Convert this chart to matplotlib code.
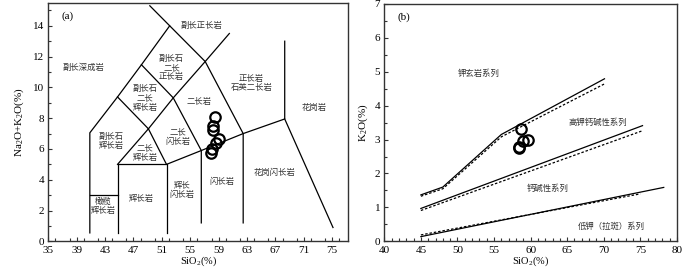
import matplotlib
matplotlib.use("Agg")
import matplotlib.pyplot as plt
from matplotlib.ticker import MultipleLocator

plt.rcParams['font.family'] = ['Liberation Serif', 'DejaVu Serif']
plt.rcParams['mathtext.fontset'] = 'custom'
plt.rcParams['mathtext.rm'] = 'Liberation Serif'
plt.rcParams['mathtext.it'] = 'Liberation Serif:italic'

CJK = ['Noto Sans CJK SC', 'DejaVu Sans']

# ---- panel (a): TAS plutonic grid, vertices ----
foid_left = [(40.85, 0.55), (40.85, 7.05), (44.75, 9.38), (48.12, 11.47), (52.1, 14.0), (49.3, 15.3)]
foid_right = [(52.1, 14.0), (57.1, 11.68), (62.45, 7.0), (62.45, 1.2)]
peridot_top = [(40.85, 3.0), (44.75, 3.0)]
gabbro_box = [(44.75, 0.55), (44.75, 5.0), (51.65, 5.0), (51.65, 0.55)]
alk_line = [(44.75, 5.0), (49.1, 7.31), (51.65, 5.0), (56.55, 5.9), (62.45, 7.0), (68.3, 7.95), (68.3, 13.0)]
cross_1 = [(44.75, 9.38), (49.1, 7.31)]
cross_2 = [(48.12, 11.47), (52.6, 9.32), (56.55, 5.9), (56.55, 1.2)]
cross_3 = [(49.1, 7.31), (52.6, 9.32), (57.1, 11.68), (60.5, 13.5)]
granite_line = [(68.3, 7.95), (75.1, 0.9)]
tas_lines = [foid_left, foid_right, peridot_top, gabbro_box, alk_line,
             cross_1, cross_2, cross_3, granite_line]

tas_names = ['副长深成岩', '副长正长岩', '副长石\n二长\n正长岩', '副长石\n二长\n辉长岩', '二长岩',
             '正长岩\n石英二长岩', '花岗岩', '副长石\n辉长岩', '二长\n辉长岩', '二长\n闪长岩',
             '辉长岩', '橄榄\n辉长岩', '辉长\n闪长岩', '闪长岩', '花岗闪长岩']
tas_name_x = [39.9, 56.6, 52.35, 48.6, 56.3, 63.6, 72.5, 43.9, 48.6, 53.3, 48.1, 42.7, 53.8, 59.4, 66.9]
tas_name_y = [11.3, 14.0, 11.3, 9.3, 9.1, 10.27, 8.7, 6.5, 5.77, 6.8, 2.77, 2.3, 3.34, 3.87, 4.5]

sio2_a = [58.45, 58.2, 58.2, 59.0, 58.6, 57.85, 58.0]
alk_a = [8.09, 7.52, 7.25, 6.68, 6.42, 5.77, 6.0]

# ---- panel (b): K2O vs SiO2 series boundaries ----
shos_x = [45, 48, 56, 70.1]
shos_y = [1.37, 1.6, 3.15, 4.79]
shos_dash_x = [45, 48, 56, 70.1]
shos_dash_y = [1.33, 1.55, 3.08, 4.64]
hk_x = [45, 75.3]
hk_y = [0.97, 3.41]
hk_dash_x = [45, 75.3]
hk_dash_y = [0.91, 3.26]
lk_x = [45, 78.2]
lk_y = [0.14, 1.59]
lk_dash_x = [45, 75.0]
lk_dash_y = [0.19, 1.40]

series_names = ['钾玄岩系列', '高钾钙碱性系列', '钙碱性系列', '低钾（拉斑）系列']
series_x = [52.9, 69.2, 62.3, 71.0]
series_y = [4.95, 3.5, 1.57, 0.43]

sio2_b = [58.67, 58.43, 58.9, 59.6, 58.35]
k2o_b = [3.31, 2.79, 2.95, 3.0, 2.74]

fig = plt.figure(figsize=(7, 2.7), dpi=100)
ax1 = fig.add_axes([0.069, 0.106, 0.428, 0.884])
ax2 = fig.add_axes([0.549, 0.106, 0.418, 0.88])


def style_axes(ax):
    for s in ax.spines.values():
        s.set_linewidth(1.0)
        s.set_color('#333333')
    ax.tick_params(which='both', direction='in', top=False, right=False,
                   labelsize=8, width=0.8, color='#333333')
    ax.tick_params(axis='x', pad=3)
    ax.tick_params(axis='y', pad=3)
    ax.tick_params(which='major', length=3)
    ax.tick_params(which='minor', length=2)


# panel a
for pl in tas_lines:
    ax1.plot([p[0] for p in pl], [p[1] for p in pl], color='black', lw=0.9)
for name, x, y in zip(tas_names, tas_name_x, tas_name_y):
    ax1.text(x, y, name, family=CJK, fontsize=6, color='#333333',
             ha='center', va='center', linespacing=1.05)
ax1.plot(sio2_a, alk_a, 'o', ms=7.5, mfc='none', mec='black', mew=1.6)
ax1.set_xlim(35, 77.2)
ax1.set_ylim(0, 15.5)
ax1.xaxis.set_minor_locator(MultipleLocator(2))
ax1.yaxis.set_major_locator(MultipleLocator(2))
ax1.yaxis.set_minor_locator(MultipleLocator(1))
ax1.set_xticks(range(35, 77, 4))
style_axes(ax1)
ax1.set_xlabel('SiO$_2$(%)', fontsize=7.5, labelpad=0)
ax1.set_ylabel('Na$_2$O+K$_2$O(%)', fontsize=8, labelpad=5)
ax1.text(0.045, 0.965, '(a)', transform=ax1.transAxes, fontsize=8, va='top')

# panel b
ax2.plot(shos_x, shos_y, color='black', lw=0.9)
ax2.plot(shos_dash_x, shos_dash_y, color='black', lw=0.9, ls=(0, (2, 1.5)))
ax2.plot(hk_x, hk_y, color='black', lw=0.9)
ax2.plot(hk_dash_x, hk_dash_y, color='black', lw=0.9, ls=(0, (2, 1.5)))
ax2.plot(lk_x, lk_y, color='black', lw=0.9)
ax2.plot(lk_dash_x, lk_dash_y, color='black', lw=0.9, ls=(0, (2, 1.5)))
for name, x, y in zip(series_names, series_x, series_y):
    ax2.text(x, y, name, family=CJK, fontsize=6, color='#333333',
             ha='center', va='center')
ax2.plot(sio2_b, k2o_b, 'o', ms=7.5, mfc='none', mec='black', mew=1.6)
ax2.set_xlim(40, 80)
ax2.set_ylim(0, 7)
ax2.xaxis.set_major_locator(MultipleLocator(5))
ax2.xaxis.set_minor_locator(MultipleLocator(1))
ax2.yaxis.set_major_locator(MultipleLocator(1))
ax2.yaxis.set_minor_locator(MultipleLocator(0.5))
style_axes(ax2)
ax2.set_xlabel('SiO$_2$(%)', fontsize=7.5, labelpad=0)
ax2.set_ylabel('K$_2$O(%)', fontsize=8, labelpad=3)
ax2.text(0.045, 0.965, '(b)', transform=ax2.transAxes, fontsize=8, va='top')

fig.savefig('out.png', dpi=100)
